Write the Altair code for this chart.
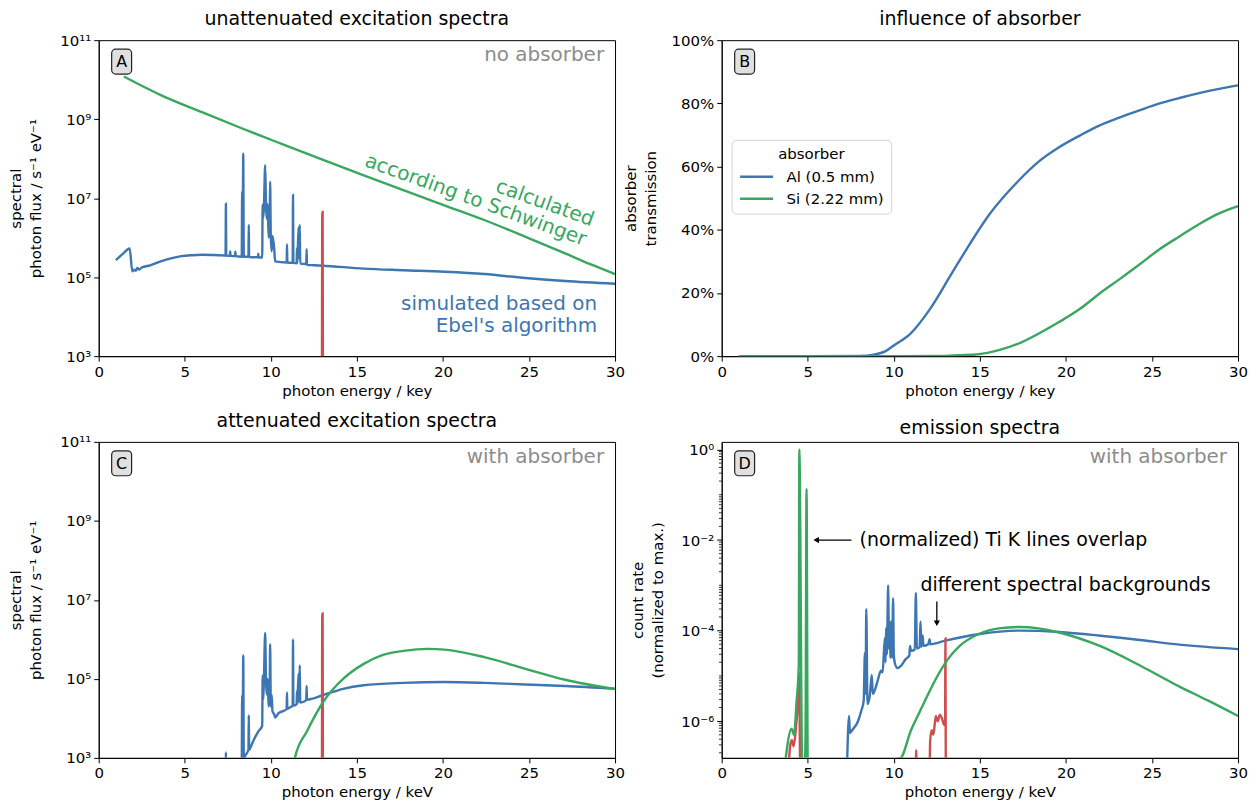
import altair as alt
import pandas as pd

BLUE = "#3d76b0"
GREEN = "#39a760"
RED = "#cf4d4d"
GRAY = "#8c8c8c"
FONT = "DejaVu Sans"
W, H = 518, 317
GAP_X, GAP_Y = 107, 86
LW = 2.4

# ---------------- Panel A : unattenuated excitation spectra ----------------
a_blue_E = [1.0, 1.4, 1.8, 1.95, 2.05, 2.15, 2.25, 2.35, 2.5, 3.0, 3.6, 4.2, 4.8, 5.4, 6.0, 6.6, 7.2,
            7.37, 7.39, 7.41, 7.62, 7.64, 7.66, 7.92, 7.94, 7.96,
            8.31, 8.335, 8.36, 8.398, 8.43, 8.70, 8.72, 8.74, 9.25, 9.27, 9.29,
            9.50, 9.525, 9.56, 9.60, 9.672, 9.72, 9.76, 9.82, 9.87, 9.93, 9.961, 10.0, 10.05, 10.1, 10.2, 10.25,
            10.92, 10.94, 10.96, 11.27, 11.29, 11.31, 11.50, 11.52, 11.54, 11.61, 11.64, 11.68, 11.71,
            12.06, 12.08, 12.1, 12.5, 13.0, 15.4, 17.7, 20.1, 22.4, 24.8, 27.1, 30.0]
a_blue_F = [2.7e5, 3.9e5, 5.3e5, 1.4e5, 1.55e5, 1.45e5, 1.7e5, 1.55e5, 1.75e5, 2.0e5, 2.5e5, 3.0e5, 3.4e5, 3.6e5, 3.7e5, 3.65e5, 3.55e5,
            3.5e5, 7.2e6, 3.5e5, 3.45e5, 4.5e5, 3.45e5, 3.4e5, 4.4e5, 3.4e5,
            3.3e5, 1.5e7, 3.3e5, 1.33e8, 3.3e5, 3.3e5, 2.1e6, 3.25e5, 3.2e5, 3.9e5, 3.2e5,
            3.15e5, 6.8e6, 3.2e6, 6.0e6, 6.8e7, 6.5e6, 3.0e6, 7.0e6, 1.0e6, 2.5e6, 2.6e7, 1.0e6, 4.5e5, 1.1e6, 5.1e5, 2.5e5,
            2.35e5, 6.8e5, 2.35e5, 2.3e5, 1.2e7, 2.3e5, 2.25e5, 5.5e5, 2.25e5, 1.8e6, 3.0e5, 2.1e6, 2.2e5,
            2.15e5, 5.1e5, 2.05e5, 2.0e5, 1.95e5, 1.65e5, 1.5e5, 1.37e5, 1.2e5, 9.5e4, 8.0e4, 6.8e4]
a_green_E = [1.46, 2.5, 3.64, 6.0, 8.34, 10.7, 13.04, 15.4, 17.7, 20.0, 22.4, 24.8, 27.1, 28.6, 30.0]
a_green_F = [1.2e10, 7.0e9, 4.0e9, 1.5e9, 5.8e8, 2.3e8, 9.3e7, 3.8e7, 1.6e7, 6.8e6, 2.8e6, 1.05e6, 4.0e5, 2.1e5, 1.2e5]
red_E = [12.97, 12.99, 13.01, 13.03]
red_F = [1.0e2, 4.5e6, 4.5e6, 1.0e2]

# ---------------- Panel B : absorber transmission ----------------
al_E = [1, 5, 8, 8.84, 9.5, 10.0, 10.94, 12.1, 13.28, 14.45, 15.6, 17.26, 18.4, 19.6, 20.8, 21.9, 23.1,
        24.27, 25.4, 26.6, 27.8, 28.9, 30]
al_T = [0, 0, 0.001, 0.005, 0.015, 0.034, 0.07, 0.149, 0.254, 0.358, 0.452, 0.556, 0.615, 0.661, 0.698, 0.729, 0.755,
        0.778, 0.799, 0.817, 0.833, 0.846, 0.857]
si_E = [1, 10, 13.0, 13.75, 14.9, 16.1, 17.26, 18.4, 19.6, 20.8, 21.9, 23.1, 24.27, 25.4, 26.6, 27.8, 28.9, 30]
si_T = [0, 0, 0.001, 0.003, 0.006, 0.019, 0.04, 0.071, 0.108, 0.149, 0.196, 0.243, 0.29, 0.337, 0.379, 0.42, 0.452, 0.475]
absorbers = ["Al (0.5 mm)", "Si (2.22 mm)"]

# ---------------- Panel C : attenuated excitation spectra ----------------
c_blue_E = [7.30, 7.37, 7.39, 7.41, 7.6, 8.0, 8.31, 8.335, 8.36, 8.398, 8.43, 8.5, 8.70, 8.72, 8.74, 8.81, 9.0, 9.28,
            9.5, 9.525, 9.56, 9.60, 9.672, 9.72, 9.76, 9.82, 9.87, 9.93, 9.961, 10.0, 10.05, 10.1, 10.2, 10.25, 10.45,
            10.92, 10.94, 10.96, 11.16, 11.27, 11.29, 11.31, 11.5, 11.52, 11.54, 11.61, 11.64, 11.68, 11.71,
            12.06, 12.08, 12.1, 13.04, 14.2, 15.4, 17.7, 20.1, 22.4, 24.8, 27.1, 30.0]
c_blue_F = [1e2, 1e2, 1.4e3, 1e2, 1.5e2, 3e2, 7e2, 3.9e4, 8e2, 3.9e5, 9e2, 1.1e3, 1.6e3, 1.2e4, 1.6e3, 1.8e3, 2.8e3, 4.7e3,
            6.5e3, 1.2e5, 3e4, 1.0e5, 1.45e6, 9e4, 4e4, 1.0e5, 2e4, 4e4, 7.6e5, 2e4, 3.9e4, 1.5e4, 1.25e4, 1.05e4, 1.35e4,
            1.7e4, 4.5e4, 1.75e4, 1.95e4, 2.1e4, 1.0e6, 2.1e4, 2.3e4, 5e4, 2.3e4, 1.35e5, 2.6e4, 2.2e5, 2.5e4,
            2.9e4, 6.6e4, 3.0e4, 3.9e4, 5.6e4, 6.9e4, 7.9e4, 8.3e4, 7.9e4, 7.2e4, 6.6e4, 5.6e4]
c_green_E = [11.3, 11.4, 12.1, 13.04, 14.2, 15.4, 16.56, 17.7, 19.1, 20.1, 22.4, 24.8, 27.1, 30.0]
c_green_F = [5e2, 1e3, 4.7e3, 2.6e4, 1.0e5, 2.4e5, 4.1e5, 5.1e5, 5.75e5, 5.5e5, 3.55e5, 1.8e5, 9.5e4, 5.5e4]

# ---------------- Panel D : emission spectra ----------------
d_blue_E = [7.28, 7.40, 7.45, 7.6, 7.92, 8.11, 8.25, 8.32, 8.36, 8.40, 8.47, 8.6, 8.72, 8.78, 9.06, 9.25, 9.35,
            9.48, 9.52, 9.55, 9.6, 9.67, 9.72, 9.76, 9.8, 9.84, 9.9, 9.96, 10.0, 10.05, 10.2, 10.4, 10.69, 10.9,
            10.94, 11.0, 11.22, 11.28, 11.34, 11.5, 11.55, 11.6, 11.68, 11.72, 12.0, 12.08, 12.12,
            13.0, 14.9, 17.3, 19.6, 21.9, 24.3, 26.6, 30.0]
d_blue_F = [1e-7, 1.3e-6, 5.5e-7, 6.5e-7, 1.0e-6, 1.7e-6, 2.8e-6, 3.2e-5, 4e-6, 3.0e-4, 2.4e-6, 3.5e-6, 1.05e-5, 4e-6, 7.8e-6, 1.3e-5, 1.2e-5,
            6.9e-5, 2e-5, 1.15e-4, 3e-5, 1.0e-3, 4e-5, 1.6e-4, 2.5e-5, 1.6e-4, 2.5e-5, 5.2e-4, 3.0e-5, 2e-5, 1.5e-5, 1.65e-5, 2.35e-5, 2.8e-5,
            4.6e-5, 3.6e-5, 3.8e-5, 6.8e-4, 4e-5, 4.3e-5, 1.6e-4, 4.4e-5, 7.8e-5, 4.6e-5, 5e-5, 6.5e-5, 5.0e-5,
            6.0e-5, 8.3e-5, 1.0e-4, 9.3e-5, 7.8e-5, 6.2e-5, 4.9e-5, 3.9e-5]
d_red_E = [3.88, 4.0, 4.08, 4.18, 4.3, 4.42, 4.5, 4.56, 11.27, 11.3, 11.33, 12.08, 12.11, 12.2, 12.3, 12.44, 12.55,
           12.68, 12.8, 12.93, 12.98, 13.0, 13.02]
d_red_F = [1e-7, 3.2e-7, 3.8e-7, 2.8e-7, 6.3e-7, 2.5e-6, 1.2e-5, 1e-7, 1e-7, 2.3e-7, 1e-7, 1e-7, 3.5e-7, 6.3e-7, 5e-7, 1.3e-6, 1.0e-6,
           1.4e-6, 1.15e-6, 8.3e-7, 9e-7, 6.8e-5, 1e-7]
d_green_E = [3.66, 4.06, 4.2, 4.35, 4.48, 4.51, 4.68, 4.82, 4.87, 4.93, 5.0, 10.36, 11.0, 11.5, 12.0, 12.6, 13.2, 13.8,
             14.9, 16.1, 17.3, 18.4, 19.6, 21.9, 24.3, 26.6, 28.3, 30.0]
d_green_F = [1e-7, 6.8e-7, 5e-7, 2.7e-6, 1.8e-5, 1.0, 1e-7, 1e-7, 4.5e-7, 0.134, 1e-7, 1.5e-7, 6.3e-7, 1.6e-6, 4e-6, 1.1e-5, 2.5e-5, 4.5e-5,
             8.3e-5, 1.12e-4, 1.2e-4, 1.12e-4, 9.1e-5, 4.7e-5, 1.7e-5, 5.8e-6, 2.8e-6, 1.3e-6]

x_ticks = [0, 5, 10, 15, 20, 25, 30]
flux_ticks = [1e3, 1e5, 1e7, 1e9, 1e11]
rate_ticks = [1e-6, 1e-4, 1e-2, 1.0]
pct_ticks = [0, 0.2, 0.4, 0.6, 0.8, 1.0]
minor_rate = [m * 10.0 ** e for e in range(-7, 1) for m in range(1, 10)
              if not (m == 1 and e % 2 == 0) and 1.55e-7 <= m * 10.0 ** e <= 1.47]

# ---------------- scales / axes ----------------
xs = alt.Scale(domain=[0, 30], nice=False, zero=False)


def xax(title):
    return alt.Axis(title=title, values=x_ticks, format="d", labelFlush=False)


ys_flux = alt.Scale(type="log", domain=[1e3, 1e11], nice=False)
ya_flux = alt.Axis(title=["spectral", "photon flux / s⁻¹ eV⁻¹"], values=flux_ticks,
                   labelExpr="datum.value > 5e10 ? '10¹¹' : datum.value > 5e8 ? '10⁹' : datum.value > 5e6 ? '10⁷' : datum.value > 5e4 ? '10⁵' : '10³'",
                   minExtent=46, maxExtent=46, titlePadding=9)
ys_pct = alt.Scale(domain=[0, 1], nice=False, zero=False)
ya_pct = alt.Axis(title=["absorber", "transmission"], values=pct_ticks, format=".0%",
                  minExtent=54, maxExtent=54, titlePadding=9)
ys_rate = alt.Scale(type="log", domain=[1.55e-7, 1.47], nice=False)
ya_rate = alt.Axis(title=["count rate", "(normalized to max.)"], values=rate_ticks,
                   labelExpr="datum.value > 0.5 ? '10⁰' : datum.value > 5e-3 ? '10⁻²' : datum.value > 5e-5 ? '10⁻⁴' : '10⁻⁶'",
                   minExtent=48, maxExtent=48, titlePadding=8)


def series(E, F, color, xa, ys, ya):
    d = pd.DataFrame({"E": E, "F": F, "i": list(range(len(E)))})
    return alt.Chart(d).mark_line(color=color, strokeWidth=LW, clip=True, interpolate="monotone").encode(
        x=alt.X("E:Q", scale=xs, axis=xa),
        y=alt.Y("F:Q", scale=ys, axis=ya),
        order=alt.Order("i:Q"),
    )


def label(texts, E, F, xa, ys, ya, **kw):
    d = pd.DataFrame({"t": texts, "E": E, "F": F})
    return alt.Chart(d).mark_text(font=FONT, **kw).encode(
        x=alt.X("E:Q", scale=xs, axis=xa),
        y=alt.Y("F:Q", scale=ys, axis=ya),
        text="t:N",
    )


def panel_box(letter):
    base = alt.Chart(pd.DataFrame({"t": [letter]}))
    rect = base.mark_rect(fill="#e0e0e0", stroke="#222222", strokeWidth=1.2, cornerRadius=4).encode(
        x=alt.value(13), x2=alt.value(33), y=alt.value(9), y2=alt.value(34))
    txt = base.mark_text(font=FONT, fontSize=16, color="black", baseline="middle").encode(
        x=alt.value(23), y=alt.value(22), text="t:N")
    return rect + txt


def corner(text):
    return alt.Chart(pd.DataFrame({"t": [text]})).mark_text(
        font=FONT, fontSize=20, color=GRAY, align="right", baseline="middle").encode(
        x=alt.value(W - 11), y=alt.value(15), text="t:N")


# ---------------- Panel A ----------------
xa_A = xax("photon energy / key")
A = alt.layer(
    series(a_blue_E, a_blue_F, BLUE, xa_A, ys_flux, ya_flux),
    series(red_E, red_F, RED, xa_A, ys_flux, ya_flux),
    series(a_green_E, a_green_F, GREEN, xa_A, ys_flux, ya_flux),
    label(["calculated", "according to Schwinger"], [25.92, 21.9], [7.5e6, 8.9e6], xa_A, ys_flux, ya_flux,
          fontSize=20, color=GREEN, angle=20, align="center", baseline="middle"),
    label(["simulated based on", "Ebel's algorithm"], [28.96, 28.96], [2.14e4, 5.96e3], xa_A, ys_flux, ya_flux,
          fontSize=20, color=BLUE, align="right", baseline="middle"),
    panel_box("A"),
    corner("no absorber"),
).properties(width=W, height=H, title="unattenuated excitation spectra")

# ---------------- Panel B ----------------
bdf = pd.concat([
    pd.DataFrame({"E": al_E, "T": al_T, "absorber": absorbers[0], "i": list(range(len(al_E)))}),
    pd.DataFrame({"E": si_E, "T": si_T, "absorber": absorbers[1], "i": list(range(len(si_E)))}),
])
xa_B = xax("photon energy / key")
B_lines = alt.Chart(bdf).mark_line(strokeWidth=LW, clip=True, interpolate="monotone").encode(
    x=alt.X("E:Q", scale=xs, axis=xa_B),
    y=alt.Y("T:Q", scale=ys_pct, axis=ya_pct),
    color=alt.Color("absorber:N", scale=alt.Scale(domain=absorbers, range=[BLUE, GREEN]),
                    legend=alt.Legend(title="absorber", orient="none", legendX=W + GAP_X + 10, legendY=100,
                                      fillColor="white", strokeColor="#d4d4d4", cornerRadius=4,
                                      padding=7, titlePadding=6, titleAnchor="middle",
                                      titleFont=FONT, titleFontSize=15, titleFontWeight="normal",
                                      labelFont=FONT, labelFontSize=15, labelColor="black",
                                      titleColor="black",
                                      symbolType="M-1,0H3.4", symbolSize=225, symbolStrokeWidth=2.5,
                                      labelOffset=30, rowPadding=5)),
    order=alt.Order("i:Q"),
)
B = alt.layer(B_lines, panel_box("B")).properties(width=W, height=H, title="influence of absorber")

# ---------------- Panel C ----------------
xa_C = xax("photon energy / keV")
C = alt.layer(
    series(c_blue_E, c_blue_F, BLUE, xa_C, ys_flux, ya_flux),
    series(red_E, red_F, RED, xa_C, ys_flux, ya_flux),
    series(c_green_E, c_green_F, GREEN, xa_C, ys_flux, ya_flux),
    panel_box("C"),
    corner("with absorber"),
).properties(width=W, height=H, title="attenuated excitation spectra")

# ---------------- Panel D ----------------
xa_D = xax("photon energy / keV")
minor = alt.Chart(pd.DataFrame({"v": minor_rate})).mark_rule(color="black", strokeWidth=0.8).encode(
    y=alt.Y("v:Q", scale=ys_rate, axis=ya_rate), x=alt.value(-2.8), x2=alt.value(0))
arrow_h = alt.Chart(pd.DataFrame({"E": [5.51], "E2": [7.54], "F": [1e-2]})).mark_rule(color="black", strokeWidth=1.3).encode(
    x=alt.X("E:Q", scale=xs, axis=xa_D), x2="E2:Q", y=alt.Y("F:Q", scale=ys_rate, axis=ya_rate))
head_h = alt.Chart(pd.DataFrame({"E": [5.49], "F": [1e-2]})).mark_point(
    shape="triangle-left", filled=True, color="black", size=40, opacity=1).encode(
    x=alt.X("E:Q", scale=xs, axis=xa_D), y=alt.Y("F:Q", scale=ys_rate, axis=ya_rate))
arrow_v = alt.Chart(pd.DataFrame({"E": [12.5], "F": [4.4e-4], "F2": [1.5e-4]})).mark_rule(color="black", strokeWidth=1.3).encode(
    x=alt.X("E:Q", scale=xs, axis=xa_D), y=alt.Y("F:Q", scale=ys_rate, axis=ya_rate), y2="F2:Q")
head_v = alt.Chart(pd.DataFrame({"E": [12.5], "F": [1.46e-4]})).mark_point(
    shape="triangle-down", filled=True, color="black", size=40, opacity=1).encode(
    x=alt.X("E:Q", scale=xs, axis=xa_D), y=alt.Y("F:Q", scale=ys_rate, axis=ya_rate))
D = alt.layer(
    minor,
    series(d_blue_E, d_blue_F, BLUE, xa_D, ys_rate, ya_rate),
    series(d_red_E, d_red_F, RED, xa_D, ys_rate, ya_rate),
    series(d_green_E, d_green_F, GREEN, xa_D, ys_rate, ya_rate),
    arrow_h, head_h, arrow_v, head_v,
    label(["(normalized) Ti K lines overlap"], [8.01], [1e-2], xa_D, ys_rate, ya_rate,
          fontSize=19, color="black", align="left", baseline="middle"),
    label(["different spectral backgrounds"], [11.55], [1.02e-3], xa_D, ys_rate, ya_rate,
          fontSize=19, color="black", align="left", baseline="middle"),
    panel_box("D"),
    corner("with absorber"),
).properties(width=W, height=H, title="emission spectra")

chart = alt.concat(
    A, B, C, D, columns=2,
    spacing={"row": GAP_Y, "column": GAP_X}, bounds="flush",
).properties(
    padding={"left": 0, "top": 0, "right": 0, "bottom": 0}
).configure_view(
    stroke="black", strokeWidth=1
).configure_axis(
    labelFont=FONT, titleFont=FONT, labelFontSize=15, titleFontSize=15, titleFontWeight="normal",
    labelColor="black", titleColor="black", domainColor="black", tickColor="black",
    tickSize=5, labelPadding=3, grid=False, titleLineHeight=20, domainWidth=1, tickWidth=1,
).configure_axisX(
    titlePadding=4
).configure_title(
    font=FONT, fontSize=19, fontWeight="normal", color="black", offset=0, anchor="middle", frame="group"
)

chart.save("out.html", embed_options={"renderer": "svg", "actions": False})
